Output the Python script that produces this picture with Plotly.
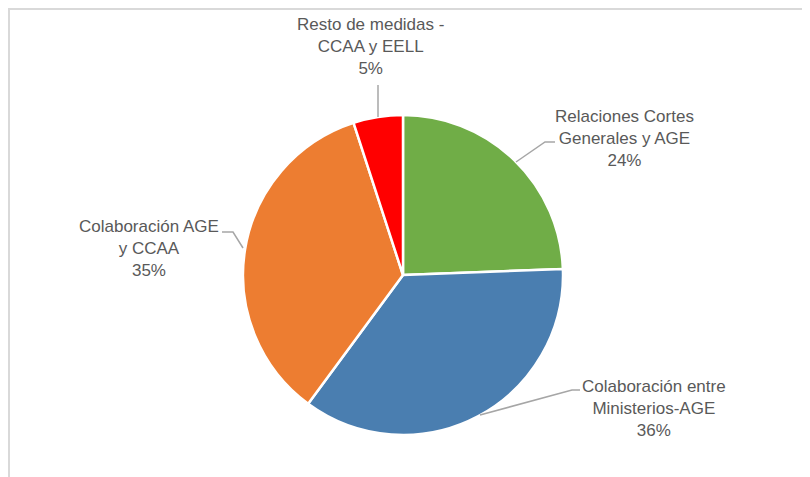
import plotly.graph_objects as go

# Data
categories = ["Relaciones Cortes<br>Generales y AGE",
              "Colaboración entre<br>Ministerios-AGE",
              "Colaboración AGE<br>y CCAA",
              "Resto de medidas -<br>CCAA y EELL"]
values = [24.4, 35.7, 34.9, 5.0]
colors = ["#70AD47", "#4A7EB0", "#ED7D31", "#FF0000"]

# page body has an 8px margin; figure sized to fit the window
OFF = 8
W, H = 810 - OFF, 477 - OFF

def px(x):
    return (x - OFF) / W

def py(y):
    return 1 - (y - OFF) / H

cx, cy, r = 403, 275, 160

fig = go.Figure(go.Pie(
    labels=categories,
    values=values,
    sort=False,
    direction="clockwise",
    rotation=0,
    marker=dict(colors=colors, line=dict(color="white", width=2.5)),
    textinfo="none",
    hoverinfo="label+percent",
    showlegend=False,
    domain=dict(x=[px(cx - r), px(cx + r)], y=[py(cy + r), py(cy - r)]),
))

total = sum(values)
label_pos = [(624, 138), (654, 408), (149, 249), (370, 47)]
font = dict(family="Liberation Sans Narrow, Arial Narrow, Liberation Sans, Arial", size=17, color="#595959")
annotations = []
for cat, v, (x, y) in zip(categories, values, label_pos):
    annotations.append(dict(
        x=px(x), y=py(y), xref="paper", yref="paper",
        text=f"{cat}<br>{round(100 * v / total)}%",
        showarrow=False, align="center", xanchor="center", yanchor="middle",
        font=font,
    ))

leaders = [
    [(516, 162), (545, 142), (555, 142)],
    [(480, 415), (572, 390), (580, 390)],
    [(222, 232), (233, 232), (243, 248)],
    [(378, 85), (378, 117)],
]
shapes = []
for pts in leaders:
    path = "M " + " L ".join(f"{px(x)},{py(y)}" for x, y in pts)
    shapes.append(dict(type="path", path=path, xref="paper", yref="paper",
                       line=dict(color="#A6A6A6", width=1.5)))

# chart frame (left and top edges visible)
shapes.append(dict(type="rect", xref="paper", yref="paper",
                   x0=px(9), y0=-0.05, x1=1.05, y1=py(9),
                   line=dict(color="#D9D9D9", width=2)))

fig.update_layout(
    width=W, height=H,
    margin=dict(l=0, r=0, t=0, b=0),
    paper_bgcolor="white",
    plot_bgcolor="white",
    annotations=annotations,
    shapes=shapes,
)

fig.write_html("out.html")
